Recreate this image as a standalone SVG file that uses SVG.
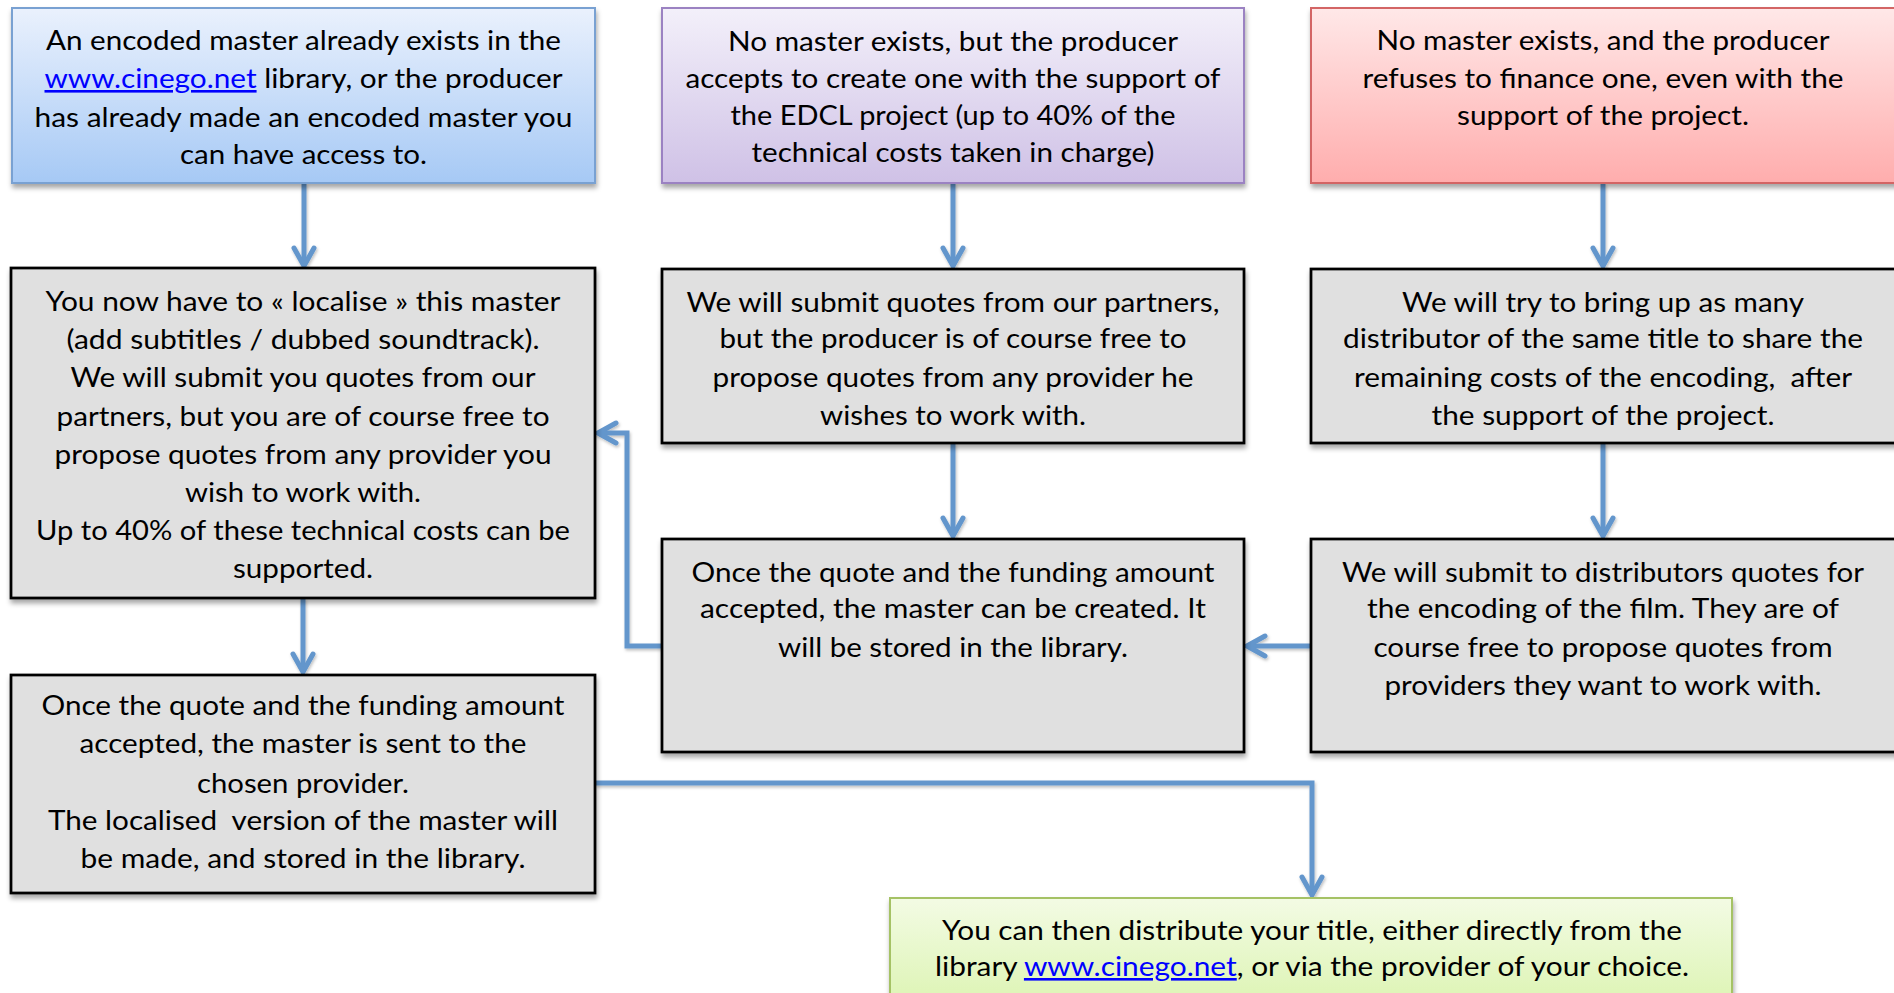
<svg xmlns="http://www.w3.org/2000/svg" width="1894" height="993" viewBox="0 0 1894 993">
<defs>
<style>
.t{font-family:Lato,"Liberation Sans",Arial,sans-serif;font-size:26px;fill:#000;text-anchor:middle}
.lk{fill:#0000ff;text-decoration:underline}
.gray{fill:#e0e0e0;stroke:#000;stroke-width:2.75}
.conn{fill:none;stroke:#6396cc;stroke-width:5;marker-end:url(#ah)}
</style>
<linearGradient id="gBlue" x1="0" y1="0" x2="0" y2="1"><stop offset="0" stop-color="#eaf1fd"/><stop offset="1" stop-color="#a6c9f5"/></linearGradient>
<linearGradient id="gPurple" x1="0" y1="0" x2="0" y2="1"><stop offset="0" stop-color="#f3f0fa"/><stop offset="1" stop-color="#cfc1e6"/></linearGradient>
<linearGradient id="gRed" x1="0" y1="0" x2="0" y2="1"><stop offset="0" stop-color="#ffe8e8"/><stop offset="1" stop-color="#ffadad"/></linearGradient>
<linearGradient id="gGreen" x1="0" y1="0" x2="0" y2="1"><stop offset="0" stop-color="#f3fbe4"/><stop offset="1" stop-color="#dcf4b2"/></linearGradient>
<filter id="sh" x="-5%" y="-5%" width="110%" height="120%"><feDropShadow dx="1" dy="4" stdDeviation="2.5" flood-color="#000" flood-opacity="0.35"/></filter>
<filter id="lsh" x="-10%" y="-10%" width="120%" height="120%"><feDropShadow dx="1" dy="2" stdDeviation="1.5" flood-color="#000" flood-opacity="0.25"/></filter>
<marker id="ah" markerUnits="userSpaceOnUse" viewBox="-24 -14 28 28" refX="0" refY="0" markerWidth="28" markerHeight="28" orient="auto">
<path d="M-18,-10 L0,0 L-18,10" fill="none" stroke="#6396cc" stroke-width="5" stroke-linecap="round" stroke-linejoin="miter"/>
</marker>
</defs>
<rect width="1894" height="993" fill="#fff"/>

<g id="connectors" filter="url(#lsh)">
<path class="conn" d="M304,183 L304,266"/>
<path class="conn" d="M953,183 L953,266"/>
<path class="conn" d="M1603,183 L1603,266"/>
<path class="conn" d="M953,443 L953,536"/>
<path class="conn" d="M1603,443 L1603,536"/>
<path class="conn" d="M303,598 L303,672"/>
<path class="conn" d="M1311,646 L1247,646"/>
<path class="conn" d="M662,646 L627,646 L627,433 L598,433"/>
<path class="conn" d="M595,783 L1312,783 L1312,895"/>
</g>

<g id="nodeA">
<rect x="12" y="8" width="583" height="175" fill="url(#gBlue)" stroke="#79a1d2" stroke-width="2" filter="url(#sh)"/>
<text class="t" x="303.5" y="50" textLength="515" lengthAdjust="spacingAndGlyphs">An encoded master already exists in the</text>
<text class="t" x="303.5" y="88" textLength="518" lengthAdjust="spacingAndGlyphs"><tspan class="lk">www.cinego.net</tspan> library, or the producer</text>
<text class="t" x="303.5" y="127" textLength="538" lengthAdjust="spacingAndGlyphs">has already made an encoded master you</text>
<text class="t" x="303.5" y="164" textLength="247" lengthAdjust="spacingAndGlyphs">can have access to.</text>
</g>

<g id="nodeB">
<rect x="662" y="8" width="582" height="175" fill="url(#gPurple)" stroke="#9b82c2" stroke-width="2" filter="url(#sh)"/>
<text class="t" x="953" y="51" textLength="450" lengthAdjust="spacingAndGlyphs">No master exists, but the producer</text>
<text class="t" x="953" y="88" textLength="535" lengthAdjust="spacingAndGlyphs">accepts to create one with the support of</text>
<text class="t" x="953" y="125" textLength="445" lengthAdjust="spacingAndGlyphs">the EDCL project (up to 40% of the</text>
<text class="t" x="953" y="162" textLength="403" lengthAdjust="spacingAndGlyphs">technical costs taken in charge)</text>
</g>

<g id="nodeC">
<rect x="1311" y="8" width="590" height="175" fill="url(#gRed)" stroke="#d36565" stroke-width="2" filter="url(#sh)"/>
<text class="t" x="1603" y="50" textLength="453" lengthAdjust="spacingAndGlyphs">No master exists, and the producer</text>
<text class="t" x="1603" y="88" textLength="481" lengthAdjust="spacingAndGlyphs">refuses to finance one, even with the</text>
<text class="t" x="1603" y="125" textLength="292" lengthAdjust="spacingAndGlyphs">support of the project.</text>
</g>

<g id="nodeD">
<rect class="gray" x="11" y="268" width="584" height="330" filter="url(#sh)"/>
<text class="t" x="303" y="311" textLength="515" lengthAdjust="spacingAndGlyphs">You now have to « localise » this master</text>
<text class="t" x="303" y="349" textLength="473" lengthAdjust="spacingAndGlyphs">(add subtitles / dubbed soundtrack).</text>
<text class="t" x="303" y="387" textLength="465" lengthAdjust="spacingAndGlyphs">We will submit you quotes from our</text>
<text class="t" x="303" y="426" textLength="493" lengthAdjust="spacingAndGlyphs">partners, but you are of course free to</text>
<text class="t" x="303" y="464" textLength="497" lengthAdjust="spacingAndGlyphs">propose quotes from any provider you</text>
<text class="t" x="303" y="502" textLength="236" lengthAdjust="spacingAndGlyphs">wish to work with.</text>
<text class="t" x="303" y="540" textLength="534" lengthAdjust="spacingAndGlyphs">Up to 40% of these technical costs can be</text>
<text class="t" x="303" y="578" textLength="140" lengthAdjust="spacingAndGlyphs">supported.</text>
</g>

<g id="nodeE">
<rect class="gray" x="662" y="269" width="582" height="174" filter="url(#sh)"/>
<text class="t" x="953" y="312" textLength="533" lengthAdjust="spacingAndGlyphs">We will submit quotes from our partners,</text>
<text class="t" x="953" y="348" textLength="467" lengthAdjust="spacingAndGlyphs">but the producer is of course free to</text>
<text class="t" x="953" y="387" textLength="481" lengthAdjust="spacingAndGlyphs">propose quotes from any provider he</text>
<text class="t" x="953" y="425" textLength="266" lengthAdjust="spacingAndGlyphs">wishes to work with.</text>
</g>

<g id="nodeF">
<rect class="gray" x="1311" y="269" width="590" height="174" filter="url(#sh)"/>
<text class="t" x="1603" y="312" textLength="402" lengthAdjust="spacingAndGlyphs">We will try to bring up as many</text>
<text class="t" x="1603" y="348" textLength="520" lengthAdjust="spacingAndGlyphs">distributor of the same title to share the</text>
<text class="t" x="1603" y="387" textLength="498" lengthAdjust="spacingAndGlyphs" xml:space="preserve">remaining costs of the encoding,  after</text>
<text class="t" x="1603" y="425" textLength="343" lengthAdjust="spacingAndGlyphs">the support of the project.</text>
</g>

<g id="nodeG">
<rect class="gray" x="662" y="539" width="582" height="213" filter="url(#sh)"/>
<text class="t" x="953" y="582" textLength="523" lengthAdjust="spacingAndGlyphs">Once the quote and the funding amount</text>
<text class="t" x="953" y="618" textLength="506" lengthAdjust="spacingAndGlyphs">accepted, the master can be created. It</text>
<text class="t" x="953" y="657" textLength="350" lengthAdjust="spacingAndGlyphs">will be stored in the library.</text>
</g>

<g id="nodeH">
<rect class="gray" x="1311" y="539" width="590" height="213" filter="url(#sh)"/>
<text class="t" x="1603" y="582" textLength="522" lengthAdjust="spacingAndGlyphs">We will submit to distributors quotes for</text>
<text class="t" x="1603" y="618" textLength="472" lengthAdjust="spacingAndGlyphs">the encoding of the film. They are of</text>
<text class="t" x="1603" y="657" textLength="459" lengthAdjust="spacingAndGlyphs">course free to propose quotes from</text>
<text class="t" x="1603" y="695" textLength="437" lengthAdjust="spacingAndGlyphs">providers they want to work with.</text>
</g>

<g id="nodeI">
<rect class="gray" x="11" y="675" width="584" height="218" filter="url(#sh)"/>
<text class="t" x="303" y="715" textLength="523" lengthAdjust="spacingAndGlyphs">Once the quote and the funding amount</text>
<text class="t" x="303" y="753" textLength="447" lengthAdjust="spacingAndGlyphs">accepted, the master is sent to the</text>
<text class="t" x="303" y="793" textLength="212" lengthAdjust="spacingAndGlyphs">chosen provider.</text>
<text class="t" x="303" y="830" textLength="510" lengthAdjust="spacingAndGlyphs" xml:space="preserve">The localised  version of the master will</text>
<text class="t" x="303" y="868" textLength="445" lengthAdjust="spacingAndGlyphs">be made, and stored in the library.</text>
</g>

<g id="nodeJ">
<rect x="890" y="898" width="842" height="110" fill="url(#gGreen)" stroke="#a5c265" stroke-width="2" filter="url(#sh)"/>
<text class="t" x="1312" y="940" textLength="740" lengthAdjust="spacingAndGlyphs">You can then distribute your title, either directly from the</text>
<text class="t" x="1312" y="976" textLength="754" lengthAdjust="spacingAndGlyphs">library <tspan class="lk">www.cinego.net</tspan>, or via the provider of your choice.</text>
</g>
</svg>
